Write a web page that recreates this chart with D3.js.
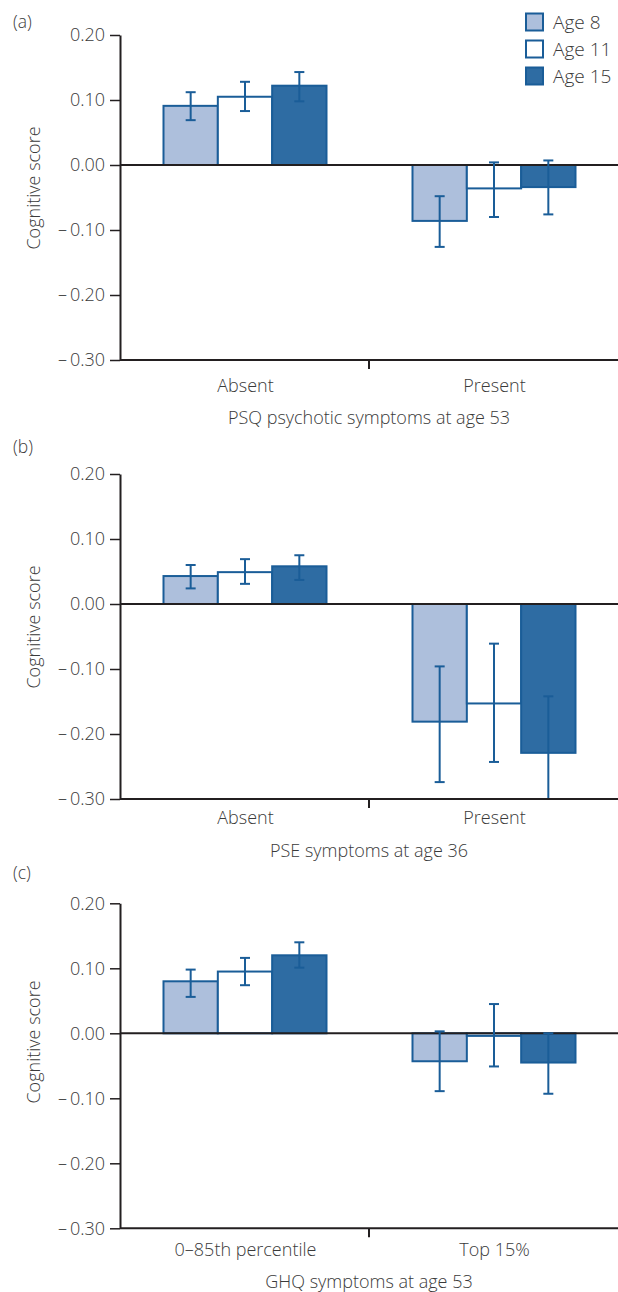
<!DOCTYPE html>
<html>
<head>
<meta charset="utf-8">
<script src="https://cdn.jsdelivr.net/npm/d3@7"></script>
<style>
  html, body { margin: 0; padding: 0; background: #fff; }
  svg { display: block; }
  text { font-family: "Open Sans", "Noto Sans", sans-serif; font-weight: 300; fill: #3a3a3a; }
</style>
</head>
<body>
<script>
// ---------------- data ----------------
const seriesNames = ["Age 8", "Age 11", "Age 15"];
const yTicks = [0.20, 0.10, 0.00, -0.10, -0.20, -0.30];
const panelLabels = ["(a)", "(b)", "(c)"];
const xTitles = ["PSQ psychotic symptoms at age 53", "PSE symptoms at age 36", "GHQ symptoms at age 53"];
const yTitle = "Cognitive score";

const categoriesA = ["Absent", "Present"];
const categoriesB = ["Absent", "Present"];
const categoriesC = ["0\u201385th percentile", "Top 15%"];

// rows = series (Age 8, Age 11, Age 15), columns = categories
const meansA = [[0.091, -0.086], [0.105, -0.036], [0.122, -0.034]];
const lowA   = [[0.069, -0.126], [0.083, -0.080], [0.098, -0.076]];
const highA  = [[0.112, -0.048], [0.128,  0.004], [0.143,  0.007]];

const meansB = [[0.043, -0.181], [0.049, -0.153], [0.058, -0.229]];
const lowB   = [[0.024, -0.274], [0.031, -0.243], [0.037, -0.316]];
const highB  = [[0.060, -0.096], [0.069, -0.061], [0.075, -0.142]];

const meansC = [[0.080, -0.043], [0.095, -0.004], [0.120, -0.045]];
const lowC   = [[0.056, -0.089], [0.074, -0.051], [0.101, -0.093]];
const highC  = [[0.098,  0.003], [0.116,  0.045], [0.140,  0.000]];

// ---------------- style / layout ----------------
const W = 618, H = 1292;
const fills = ["#adbfdc", "#ffffff", "#2e6ca3"];
const strokeBlue = "#1a5d98";
const axisColor = "#231f20";
const axisLeftX = 120;

const layouts = [
  { top: 35,    bottom: 360,    labelY: 28,  yTitleC: 188,  catY: 392,  xTitleY: 424 },
  { top: 474,   bottom: 799,    labelY: 453, yTitleC: 627,  catY: 824,  xTitleY: 857 },
  { top: 903.3, bottom: 1228.3, labelY: 879, yTitleC: 1042, catY: 1256, xTitleY: 1288 }
];

const panels = [
  { cats: categoriesA, means: meansA, low: lowA, high: highA },
  { cats: categoriesB, means: meansB, low: lowB, high: highB },
  { cats: categoriesC, means: meansC, low: lowC, high: highC }
];

const svg = d3.select("body").append("svg")
  .attr("width", W).attr("height", H);

const fmt = v => {
  if (Math.abs(v) < 1e-9) return "0.00";
  const s = Math.abs(v).toFixed(2);
  return v < 0 ? "\u2013\u2009" + s : s;
};

panels.forEach((p, pi) => {
  const L = layouts[pi];
  const g = svg.append("g");

  const y = d3.scaleLinear().domain([-0.3, 0.2]).range([L.bottom, L.top]).clamp(true);
  const x0 = d3.scaleBand().domain(p.cats).range([axisLeftX, W]);
  const x1 = d3.scaleBand().domain(seriesNames).range([43.5, x0.bandwidth() - 42.5]);

  // panel label
  g.append("text").attr("x", 13).attr("y", L.labelY)
    .style("font-size", "17.5px").text(panelLabels[pi]);

  // y axis
  const yAxis = d3.axisLeft(y).tickValues(yTicks).tickFormat(fmt)
    .tickSize(10).tickSizeOuter(0).tickPadding(5);
  const ya = g.append("g").attr("transform", `translate(${axisLeftX},0)`).call(yAxis);
  ya.select(".domain").attr("stroke", axisColor).attr("stroke-width", 2);
  ya.selectAll(".tick line").attr("stroke", axisColor).attr("stroke-width", 1.5);
  ya.selectAll(".tick text").style("font-size", "18px").attr("fill", "#3a3a3a")
    .style("font-family", '"Open Sans", sans-serif').style("font-weight", 300);

  // y title
  g.append("text")
    .attr("transform", `translate(33.5,${L.yTitleC}) rotate(-90)`)
    .attr("text-anchor", "middle").attr("dy", "0.35em")
    .style("font-size", "18px").text(yTitle);

  // bars
  seriesNames.forEach((s, si) => {
    g.selectAll(null).data(p.cats.map((c, ci) => ({ c, v: p.means[si][ci] })))
      .enter().append("rect")
      .attr("x", d => x0(d.c) + x1(s))
      .attr("width", x1.bandwidth())
      .attr("y", d => Math.min(y(d.v), y(0)))
      .attr("height", d => Math.abs(y(d.v) - y(0)))
      .attr("fill", fills[si])
      .attr("stroke", strokeBlue)
      .attr("stroke-width", 2);
  });

  // zero line
  g.append("line").attr("x1", axisLeftX).attr("x2", W)
    .attr("y1", y(0)).attr("y2", y(0))
    .attr("stroke", axisColor).attr("stroke-width", 2);

  // error bars
  const capW = 10;
  seriesNames.forEach((s, si) => {
    p.cats.forEach((c, ci) => {
      const cx = x0(c) + x1(s) + x1.bandwidth() / 2;
      const lo = p.low[si][ci], hi = p.high[si][ci];
      const eg = g.append("g").attr("stroke", strokeBlue).attr("stroke-width", 2);
      eg.append("line").attr("x1", cx).attr("x2", cx).attr("y1", y(lo)).attr("y2", y(hi));
      if (hi <= 0.2) eg.append("line").attr("x1", cx - capW / 2).attr("x2", cx + capW / 2)
        .attr("y1", y(hi)).attr("y2", y(hi));
      if (lo >= -0.3) eg.append("line").attr("x1", cx - capW / 2).attr("x2", cx + capW / 2)
        .attr("y1", y(lo)).attr("y2", y(lo));
    });
  });

  // x axis line
  g.append("line").attr("x1", axisLeftX).attr("x2", W)
    .attr("y1", y(-0.3)).attr("y2", y(-0.3))
    .attr("stroke", axisColor).attr("stroke-width", 2);
  // separator tick between categories
  const sepX = x0(p.cats[1]);
  g.append("line").attr("x1", sepX).attr("x2", sepX)
    .attr("y1", y(-0.3)).attr("y2", y(-0.3) + 9)
    .attr("stroke", axisColor).attr("stroke-width", 2);

  // category labels
  g.selectAll(null).data(p.cats).enter().append("text")
    .attr("x", d => x0(d) + x0.bandwidth() / 2 + 1)
    .attr("y", L.catY)
    .attr("text-anchor", "middle")
    .style("font-size", "18px").text(d => d);

  // x title
  g.append("text").attr("x", sepX).attr("y", L.xTitleY)
    .attr("text-anchor", "middle")
    .style("font-size", "18px").text(xTitles[pi]);

  // legend (panel a only)
  if (pi === 0) {
    const lg = g.append("g").attr("transform", "translate(526,13.5)");
    seriesNames.forEach((s, si) => {
      lg.append("rect").attr("x", 0).attr("y", si * 27)
        .attr("width", 17).attr("height", 17)
        .attr("fill", fills[si]).attr("stroke", strokeBlue).attr("stroke-width", 2);
      lg.append("text").attr("x", 27).attr("y", si * 27 + 15.5)
        .style("font-size", "19px").text(s);
    });
  }
});
</script>
</body>
</html>
